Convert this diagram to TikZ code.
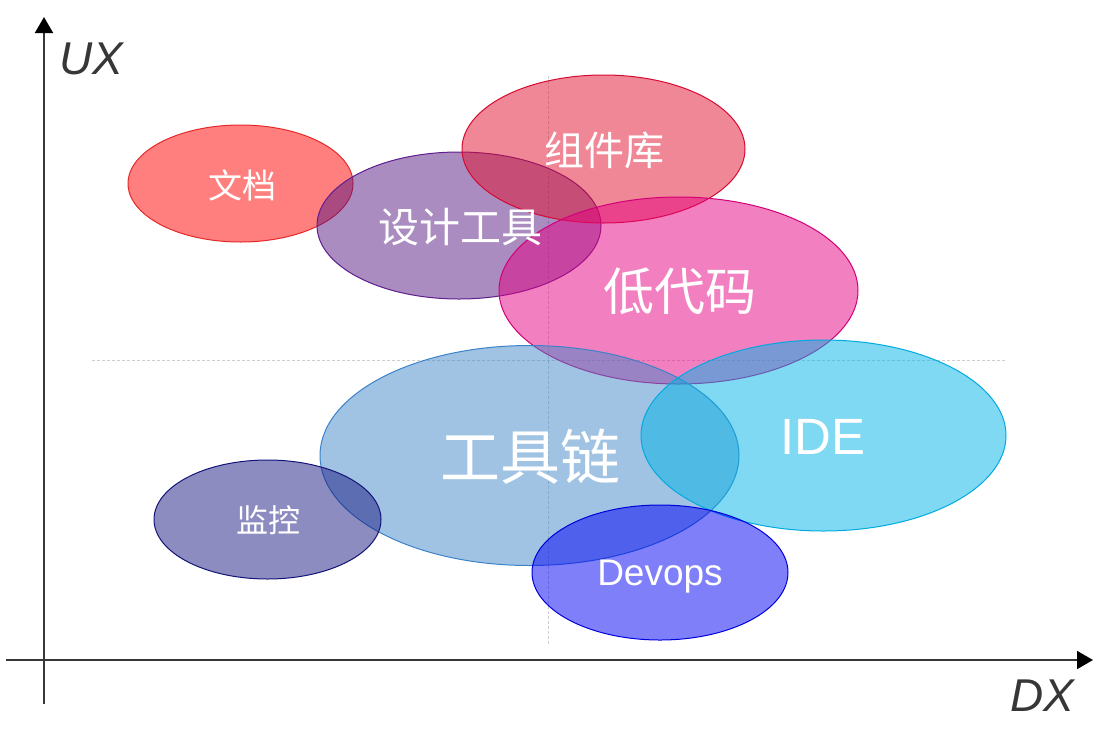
\documentclass[tikz,border=0pt]{standalone}
\usepackage{fontspec}
\setmainfont{Liberation Sans}
\newfontfamily\cjk{Noto Sans CJK SC}
\usetikzlibrary{shapes.geometric,arrows.meta}
\definecolor{axisgray}{RGB}{55,55,55}
\definecolor{guidegray}{RGB}{205,205,205}
\definecolor{cDoc}{RGB}{255,0,0}
\definecolor{bDoc}{RGB}{230,40,40}
\definecolor{cDes}{RGB}{85,25,130}
\definecolor{bDes}{RGB}{95,30,140}
\definecolor{cLib}{RGB}{225,15,45}
\definecolor{bLib}{RGB}{215,10,50}
\definecolor{cLow}{RGB}{230,0,130}
\definecolor{bLow}{RGB}{210,0,120}
\definecolor{cTool}{RGB}{65,135,200}
\definecolor{bTool}{RGB}{60,130,200}
\definecolor{cIDE}{RGB}{0,180,230}
\definecolor{bIDE}{RGB}{0,170,225}
\definecolor{cMon}{RGB}{25,25,130}
\definecolor{bMon}{RGB}{20,20,120}
\definecolor{cDev}{RGB}{0,0,245}
\definecolor{bDev}{RGB}{0,0,220}
\tikzset{
  blob/.style={ellipse, inner sep=0pt, line width=1pt, fill opacity=0.5, draw opacity=1},
  cjklbl/.style={text=white, inner sep=0pt, font=\cjk\fontsize{#1}{#1}\selectfont},
  latlbl/.style={text=white, inner sep=0pt, font=\fontsize{#1}{#1}\selectfont},
  axislbl/.style={text=axisgray, inner sep=0pt, font=\itshape\fontsize{46}{46}\selectfont},
  axisline/.style={draw=axisgray, line width=1.8pt, -{Triangle[width=18pt,length=16pt,fill=black,color=black]}},
  guide/.style={draw=guidegray, line width=0.7pt, dash pattern=on 3pt off 2pt}
}
\begin{document}
\begin{tikzpicture}[x=1pt,y=-1pt]
\useasboundingbox (0,0) rectangle (1098,732);
% guide lines
\coordinate (gh1) at (92,360);
\coordinate (gh2) at (1005,360);
\coordinate (gv1) at (548,76);
\coordinate (gv2) at (548,645);
\draw[guide] (gh1) -- (gh2);
\draw[guide] (gv1) -- (gv2);
% axes
\coordinate (xs) at (6,660);
\coordinate (xe) at (1093,660);
\coordinate (ys) at (44,704);
\coordinate (ye) at (44,17);
\draw[axisline] (xs) -- (xe);
\draw[axisline] (ys) -- (ye);
\node[axislbl] (ux) at (91,59) {UX};
\node[axislbl] (dx) at (1042,696) {DX};
% ellipses
\node[blob, fill=cDoc, draw=bDoc, minimum width=225pt, minimum height=117pt] (doc) at (240.5,183.5) {};
\node[blob, fill=cDes, draw=bDes, minimum width=284pt, minimum height=147pt] (des) at (459,225.5) {};
\node[blob, fill=cLib, draw=bLib, minimum width=283pt, minimum height=148pt] (lib) at (603.5,149) {};
\node[blob, fill=cLow, draw=bLow, minimum width=359pt, minimum height=187pt] (low) at (678.5,290.5) {};
\node[blob, fill=cTool, draw=bTool, minimum width=419pt, minimum height=220pt] (tool) at (529.5,455.5) {};
\node[blob, fill=cIDE, draw=bIDE, minimum width=365pt, minimum height=191pt] (ide) at (823.5,435.5) {};
\node[blob, fill=cMon, draw=bMon, minimum width=227pt, minimum height=119pt] (mon) at (267.5,519.5) {};
\node[blob, fill=cDev, draw=bDev, minimum width=256pt, minimum height=135pt] (dev) at (660,572.5) {};
% labels
\node[cjklbl=34] (tdoc) at (242,185) {文档};
\node[cjklbl=41] (tdes) at (460,227) {设计工具};
\node[cjklbl=40] (tlib) at (604,150) {组件库};
\node[cjklbl=51] (tlow) at (680,291) {低代码};
\node[cjklbl=60] (ttool) at (530,457) {工具链};
\node[latlbl=51] (tide) at (823,437) {IDE};
\node[cjklbl=32] (tmon) at (268,520) {监控};
\node[latlbl=37] (tdev) at (660,577) {Devops};
\end{tikzpicture}
\end{document}
